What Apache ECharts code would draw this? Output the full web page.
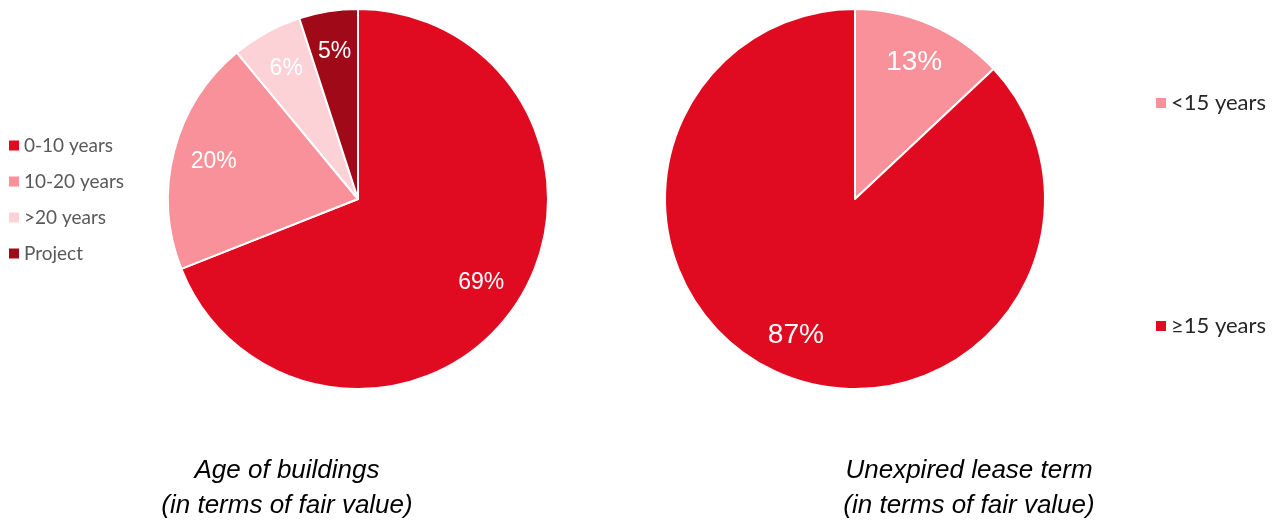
<!DOCTYPE html>
<html>
<head>
<meta charset="UTF-8">
<title>Age of buildings / Unexpired lease term</title>
<script src="https://cdn.jsdelivr.net/npm/echarts@6/dist/echarts.min.js"></script>
<style>
  html, body { margin: 0; padding: 0; background: #fff; }
  #main { width: 1279px; height: 520px; }
</style>
</head>
<body>
<div id="main"></div>
<script>
// data
var ageNames = ['0-10 years', '10-20 years', '>20 years', 'Project'];
var ageValues = [69, 20, 6, 5];
var ageColors = ['#E00B20', '#F8919A', '#FDD2D7', '#A00A18'];

var leaseNames = ['<15 years', '≥15 years'];
var leaseValues = [13, 87];
var leaseColors = ['#F8919A', '#E00B20'];

function pieData(names, values, colors) {
    return names.map(function (n, i) {
        return {name: n, value: values[i], itemStyle: {color: colors[i]}};
    });
}

// transparent ring on top of the pie so the labels sit at ~0.78 of the radius
function labelRing(center, data, size) {
    return {
        type: 'pie', center: center, radius: [102, 190],
        startAngle: 90, clockwise: true, silent: true, legendHoverLink: false,
        itemStyle: {color: 'rgba(0,0,0,0)', borderWidth: 0},
        label: {show: true, position: 'inside', formatter: '{c}%', color: '#fff',
            fontFamily: 'Liberation Sans, Arial', fontWeight: 'normal', fontSize: size},
        labelLine: {show: false},
        emphasis: {disabled: true},
        data: data.map(function (d) { return {name: d.name + ' ', value: d.value}; })
    };
}

var ageData = pieData(ageNames, ageValues, ageColors);
var leaseData = pieData(leaseNames, leaseValues, leaseColors);

var titleStyle = {fontFamily: 'Liberation Sans, Arial', fontStyle: 'italic', fontWeight: 'normal',
    fontSize: 26, lineHeight: 35, color: '#000'};

var myChart = echarts.init(document.getElementById('main'));
myChart.setOption({
    animation: false,
    title: [
        {text: 'Age of buildings\n(in terms of fair value)', left: 287, top: 453, textAlign: 'center',
            padding: 0, textStyle: titleStyle},
        {text: 'Unexpired lease term\n(in terms of fair value)', left: 969, top: 453, textAlign: 'center',
            padding: 0, textStyle: titleStyle}
    ],
    legend: [
        {
            data: ageNames, orient: 'vertical', left: 9, top: 136, padding: 0,
            icon: 'rect', itemWidth: 10, itemHeight: 10, itemGap: 17,
            itemStyle: {borderWidth: 0},
            selectedMode: false,
            textStyle: {fontFamily: 'Lato, Open Sans', fontSize: 19, color: '#595959'}
        },
        {
            data: leaseNames, orient: 'vertical', left: 1156, top: 92, padding: 0,
            icon: 'rect', itemWidth: 10, itemHeight: 10, itemGap: 201,
            itemStyle: {borderWidth: 0},
            selectedMode: false,
            textStyle: {fontFamily: 'Lato, Open Sans', fontSize: 22, color: '#262626'}
        }
    ],
    series: [
        {
            type: 'pie', center: [358, 199], radius: [0, 190], startAngle: 90, clockwise: true,
            itemStyle: {borderColor: '#fff', borderWidth: 2},
            label: {show: false}, labelLine: {show: false},
            emphasis: {disabled: true},
            data: ageData
        },
        labelRing([358, 199], ageData, 23),
        {
            type: 'pie', center: [855, 199], radius: [0, 190], startAngle: 90, clockwise: true,
            itemStyle: {borderColor: '#fff', borderWidth: 2},
            label: {show: false}, labelLine: {show: false},
            emphasis: {disabled: true},
            data: leaseData
        },
        labelRing([855, 199], leaseData, 28)
    ]
});
</script>
</body>
</html>
